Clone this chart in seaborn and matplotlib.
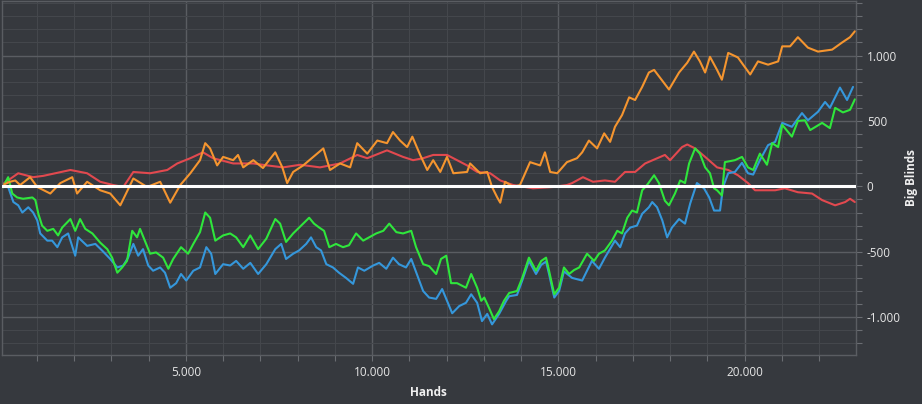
import pandas as pd
import numpy as np
import matplotlib
matplotlib.use("Agg")
import matplotlib.pyplot as plt
import seaborn as sns
from matplotlib.ticker import FuncFormatter, MultipleLocator

# values: hands played vs. big blinds won
red_hands = [0, 500, 900, 1170, 1900, 2350, 2700, 3050, 3320, 3590,
             4040, 4500, 4770, 5120, 5460, 5730, 6270, 6810, 7180, 7610,
             8070, 8600, 9140, 9600, 9870, 10400, 10830, 11100, 11370, 11640,
             12010, 12280, 12550, 12820, 13170, 13440, 13790, 14320, 14860, 15230,
             15370, 15660, 15930, 16250, 16520, 16790, 17060, 17330, 17860, 18000,
             18320, 18460, 18670, 18940, 19260, 19560, 19820, 20090, 20280, 20820,
             21080, 21430, 21810, 22080, 22430, 22700, 22830, 22960]
red_bb = [0, 100, 70, 80, 125, 100, 35, 10, -5, 110,
          100, 125, 175, 215, 260, 215, 175, 175, 160, 145,
          165, 145, 175, 240, 215, 275, 225, 200, 215, 240,
          240, 200, 160, 110, 100, 45, 10, -15, -5, 10,
          25, 70, 35, 45, 35, 110, 110, 175, 240, 200,
          300, 320, 290, 225, 145, 125, 85, 25, -30, -30,
          -15, -45, -55, -105, -145, -120, -95, -120]

orange_hands = [0, 280, 420, 550, 820, 1010, 1360, 1630, 1950, 2080,
                2350, 2700, 2970, 3240, 3590, 3960, 4310, 4580, 4850, 5120,
                5380, 5520, 5650, 5840, 6000, 6270, 6400, 6540, 6810, 7070,
                7400, 7590, 7720, 7880, 8150, 8420, 8690, 8870, 9140, 9410,
                9600, 9870, 10140, 10400, 10560, 10750, 10940, 11080, 11290, 11480,
                11640, 11830, 12010, 12180, 12550, 12630, 12900, 13090, 13220, 13360,
                13440, 13570, 13790, 13970, 14240, 14510, 14640, 14780, 14970, 15230,
                15500, 15640, 15820, 16040, 16230, 16390, 16520, 16710, 16900, 17060,
                17250, 17430, 17570, 17730, 17970, 18240, 18460, 18640, 18800, 18940,
                19070, 19260, 19390, 19560, 19820, 20150, 20360, 20630, 20900, 21010,
                21220, 21430, 21700, 21970, 22350, 22620, 22830, 22960]
orange_bb = [0, 35, 45, 10, 70, -5, -55, 25, 70, -55,
             35, -30, -55, -145, 60, -5, 35, -125, 10, 100,
             200, 330, 290, 160, 225, 200, 240, 145, 200, 140,
             260, 145, 25, 110, 160, 225, 290, 125, 175, 145,
             330, 250, 350, 330, 415, 350, 300, 380, 240, 125,
             200, 110, 225, 100, 110, 175, 100, 110, -5, -85,
             -125, 35, -5, 10, 185, 160, 260, 110, 100, 185,
             215, 260, 350, 290, 405, 340, 455, 545, 680, 660,
             760, 870, 890, 830, 740, 870, 945, 1030, 955, 870,
             990, 890, 815, 1020, 985, 855, 955, 930, 955, 1070,
             1070, 1140, 1060, 1030, 1045, 1100, 1140, 1185]

green_hands = [0, 70, 230, 340, 470, 630, 880, 960, 1040, 1140,
               1280, 1440, 1570, 1680, 1900, 2030, 2160, 2300, 2490, 2700,
               2890, 3020, 3160, 3290, 3420, 3560, 3690, 3770, 4040, 4200,
               4390, 4530, 4660, 4870, 5060, 5200, 5380, 5520, 5650, 5790,
               6000, 6190, 6350, 6540, 6730, 6940, 7160, 7400, 7530, 7690,
               7880, 8040, 8310, 8440, 8580, 8710, 8850, 9030, 9220, 9380,
               9570, 9760, 9920, 10110, 10300, 10460, 10650, 10830, 11050, 11180,
               11370, 11530, 11720, 11850, 11990, 12120, 12280, 12520, 12660, 12820,
               12930, 13010, 13140, 13270, 13410, 13540, 13680, 13890, 14030, 14210,
               14400, 14540, 14670, 14750, 14890, 15020, 15150, 15290, 15420, 15560,
               15770, 15960, 16090, 16250, 16440, 16580, 16710, 16850, 16980, 17110,
               17250, 17380, 17570, 17700, 17860, 17970, 18130, 18270, 18400, 18510,
               18670, 18800, 18940, 19070, 19180, 19260, 19390, 19470, 19740, 19930,
               20090, 20230, 20410, 20600, 20740, 20900, 21010, 21270, 21430, 21620,
               21760, 22080, 22290, 22430, 22640, 22830, 22960]
green_bb = [0, -15, 70, -55, -85, -95, -85, -105, -210, -300,
            -340, -325, -375, -315, -250, -340, -250, -325, -360, -430,
            -480, -545, -660, -620, -570, -340, -390, -325, -515, -505,
            -545, -630, -555, -465, -515, -440, -350, -200, -240, -415,
            -375, -360, -390, -465, -375, -480, -400, -250, -285, -425,
            -360, -315, -240, -285, -315, -340, -465, -440, -465, -450,
            -360, -415, -390, -360, -340, -285, -350, -360, -340, -465,
            -595, -610, -670, -555, -530, -740, -740, -775, -670, -775,
            -875, -850, -930, -1015, -955, -875, -815, -800, -700, -545,
            -645, -570, -545, -645, -825, -775, -620, -670, -640, -620,
            -515, -570, -515, -490, -415, -340, -360, -240, -185, -200,
            -30, 10, 85, 25, -110, -145, -55, 45, 25, 175,
            290, 250, 145, 100, -15, -30, -70, 185, 200, 225,
            145, 125, 250, 165, 330, 300, 470, 380, 500, 505,
            430, 485, 445, 600, 565, 585, 665]

blue_hands = [0, 230, 370, 500, 610, 770, 900, 1010, 1090, 1280,
              1410, 1550, 1680, 1840, 2030, 2110, 2350, 2570, 2750, 2970,
              3160, 3320, 3450, 3590, 3720, 3850, 3990, 4120, 4310, 4440,
              4580, 4740, 4870, 5010, 5200, 5380, 5550, 5680, 5790, 6000,
              6190, 6350, 6540, 6730, 6940, 7160, 7400, 7560, 7690, 7880,
              8040, 8230, 8360, 8500, 8630, 8770, 8950, 9110, 9300, 9490,
              9620, 9790, 10030, 10190, 10380, 10560, 10720, 10910, 11050, 11240,
              11370, 11530, 11720, 11880, 12010, 12150, 12340, 12520, 12660, 12820,
              12950, 13090, 13220, 13410, 13600, 13680, 13890, 14030, 14210, 14400,
              14540, 14670, 14750, 14890, 15020, 15150, 15370, 15640, 15900, 16090,
              16250, 16520, 16660, 16790, 16930, 17110, 17250, 17430, 17520, 17650,
              17790, 17920, 18050, 18240, 18400, 18540, 18720, 18910, 19050, 19180,
              19340, 19420, 19560, 19740, 19930, 20090, 20230, 20410, 20630, 20820,
              21010, 21270, 21540, 21700, 21970, 22160, 22290, 22560, 22750, 22910]
blue_bb = [0, -5, -120, -145, -200, -160, -200, -260, -360, -415,
           -415, -465, -390, -360, -530, -390, -455, -440, -490, -555,
           -620, -605, -545, -440, -530, -480, -605, -645, -620, -660,
           -775, -740, -670, -720, -645, -620, -465, -515, -670, -595,
           -605, -570, -630, -585, -670, -595, -480, -440, -555, -515,
           -490, -440, -390, -465, -490, -595, -620, -660, -700, -745,
           -620, -645, -605, -585, -630, -545, -595, -620, -555, -700,
           -800, -850, -860, -785, -875, -970, -915, -890, -825, -890,
           -1030, -975, -1055, -975, -875, -840, -830, -720, -570, -670,
           -600, -575, -670, -850, -800, -650, -700, -720, -570, -630,
           -545, -415, -465, -360, -315, -300, -210, -160, -120, -160,
           -260, -390, -315, -250, -285, -130, 25, -15, -85, -185,
           -185, -5, 100, 110, 180, 100, 90, 200, 315, 340,
           485, 455, 560, 505, 570, 645, 600, 755, 660, 760]

series_names = ["red", "blue", "green", "orange"]
colors = {"red": "#e2494f", "blue": "#3597db", "green": "#2fe63c", "orange": "#f5952f"}

# build long-form table for seaborn
frames = []
for name, h, bb in [("red", red_hands, red_bb), ("blue", blue_hands, blue_bb),
                    ("green", green_hands, green_bb), ("orange", orange_hands, orange_bb)]:
    frames.append(pd.DataFrame({"hands": h, "bb": bb, "series": name}))
df = pd.concat(frames, ignore_index=True)

bg = "#36393e"
sns.set_style("dark")
plt.rcParams["font.family"] = ["Open Sans", "DejaVu Sans"]

fig, ax = plt.subplots(figsize=(9.22, 4.04), dpi=100)
fig.patch.set_facecolor(bg)
ax.set_facecolor(bg)
fig.subplots_adjust(left=0.002, right=0.928, bottom=0.121, top=0.997)

sns.lineplot(data=df, x="hands", y="bb", hue="series", hue_order=series_names,
             palette=colors, estimator=None, sort=False, legend=False,
             linewidth=1.5, ax=ax)
ax.axhline(0, color="white", linewidth=2.2, zorder=5)

ax.set_xlim(60, 22980)
ax.set_ylim(-1290, 1415)

# ticks and grid
ax.xaxis.set_major_locator(MultipleLocator(5000))
ax.xaxis.set_minor_locator(MultipleLocator(1000))
ax.yaxis.set_major_locator(MultipleLocator(500))
ax.yaxis.set_minor_locator(MultipleLocator(100))
fmt = FuncFormatter(lambda v, p: f"{int(v):,}".replace(",", "."))
ax.xaxis.set_major_formatter(fmt)
ax.yaxis.set_major_formatter(fmt)
ax.yaxis.tick_right()

ax.grid(which="major", color="#5a5d62", linewidth=1.0)
ax.grid(which="minor", color="#44474c", linewidth=0.8)
ax.set_axisbelow(True)

ax.tick_params(axis="both", which="both", colors="#6a6d72", labelcolor="#e6e6e6",
               labelsize=8.5, length=4, width=0.8, direction="out")
ax.tick_params(axis="x", which="both", bottom=True, pad=4)
ax.tick_params(axis="y", which="both", right=True, left=False, pad=4)

for side in ["top", "bottom", "left", "right"]:
    ax.spines[side].set_visible(True)
    ax.spines[side].set_color("#5a5d62")
    ax.spines[side].set_linewidth(1.0)

ax.set_xlabel("")
ax.set_ylabel("")
fig.text(428 / 922, 1 - 392 / 404, "Hands", color="#f0f0f0", fontsize=8.5,
         fontweight="bold", ha="center", va="center")
fig.text(911 / 922, 1 - 178 / 404, "Big Blinds", color="#f0f0f0", fontsize=8.5,
         fontweight="bold", rotation=90, ha="center", va="center")

plt.savefig("out.png", dpi=100, facecolor=bg)
